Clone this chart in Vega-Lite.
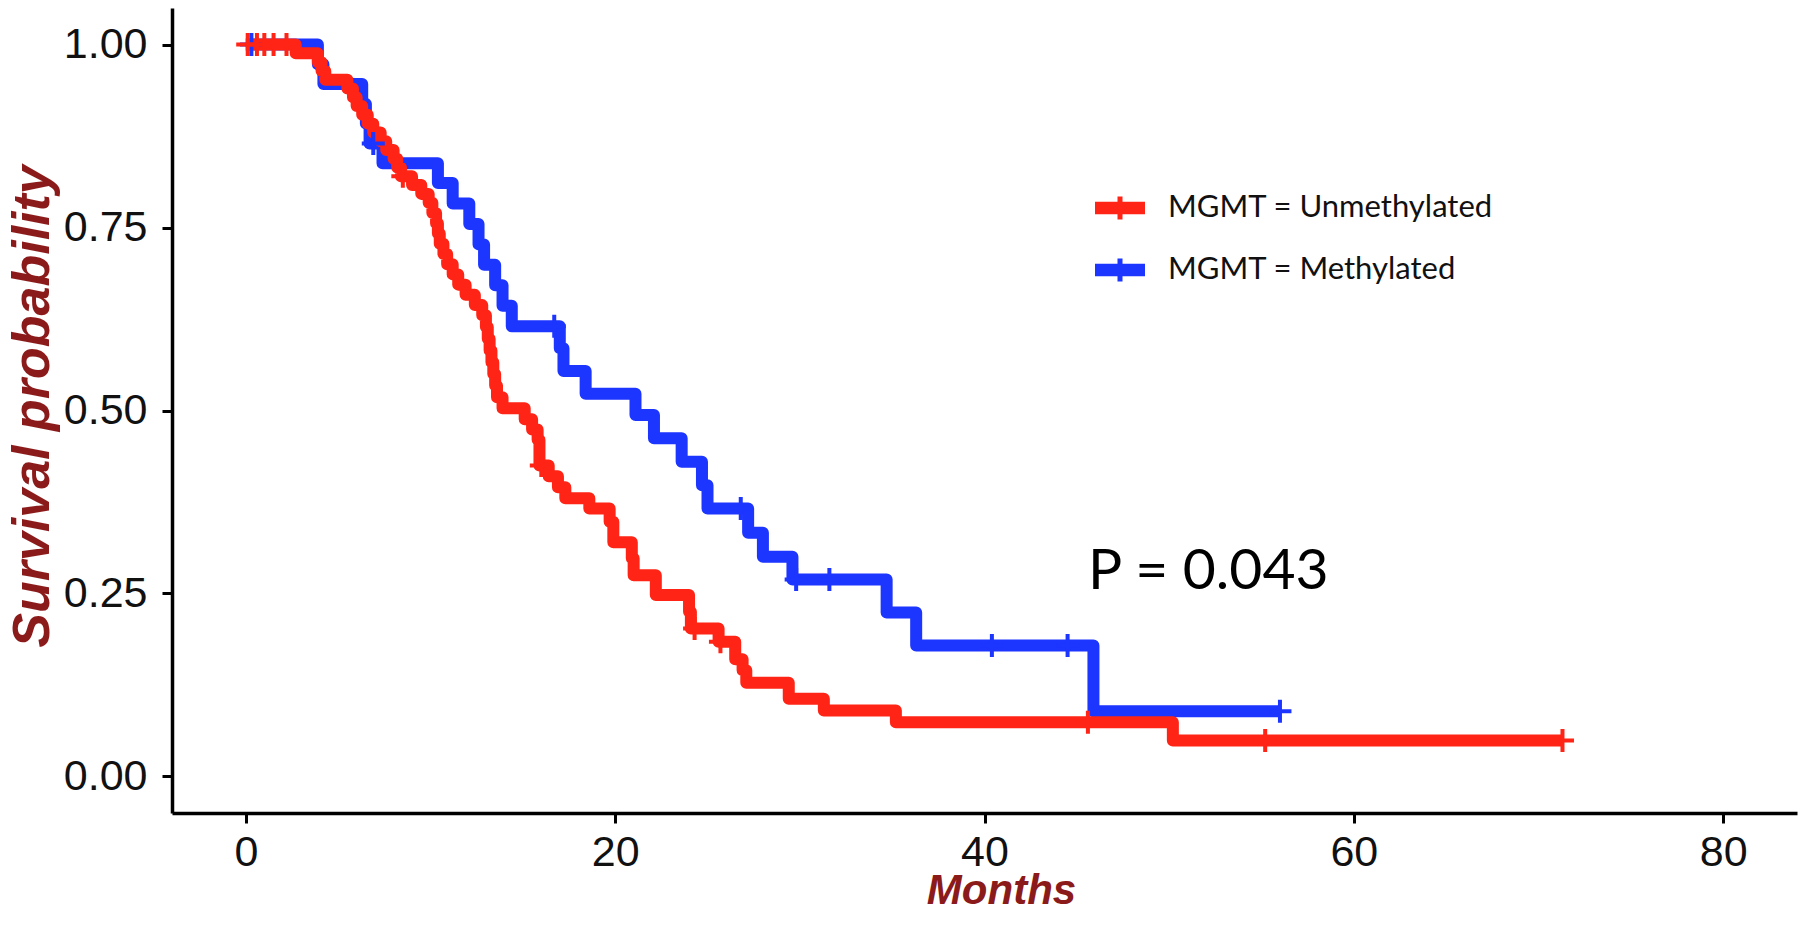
{
  "$schema": "https://vega.github.io/schema/vega-lite/v6.json",
  "width": 1625,
  "height": 805,
  "autosize": {"type": "none"},
  "padding": {"left": 172, "top": 8, "right": 3, "bottom": 112},
  "background": "white",
  "config": {
    "view": {"stroke": null},
    "axis": {
      "grid": false,
      "domainColor": "#000000",
      "domainWidth": 3.5,
      "tickColor": "#000000",
      "tickWidth": 3,
      "tickSize": 10,
      "labelFont": "Liberation Sans",
      "labelFontSize": 43,
      "labelColor": "#111111",
      "titleFont": "Liberation Sans",
      "titleFontSize": 52,
      "titleFontStyle": "italic",
      "titleFontWeight": "bold",
      "titleColor": "#8B1A1A"
    }
  },
  "data": {
    "values": [
      {"group": "MGMT = Methylated", "month": 0, "surv": 1.0, "censor": 0},
      {"group": "MGMT = Methylated", "month": 0.3, "surv": 1.0, "censor": 1},
      {"group": "MGMT = Methylated", "month": 3.9, "surv": 0.973, "censor": 0},
      {"group": "MGMT = Methylated", "month": 4.2, "surv": 0.946, "censor": 0},
      {"group": "MGMT = Methylated", "month": 6.3, "surv": 0.919, "censor": 0},
      {"group": "MGMT = Methylated", "month": 6.5, "surv": 0.892, "censor": 0},
      {"group": "MGMT = Methylated", "month": 6.7, "surv": 0.865, "censor": 0},
      {"group": "MGMT = Methylated", "month": 6.9, "surv": 0.865, "censor": 1},
      {"group": "MGMT = Methylated", "month": 7.4, "surv": 0.838, "censor": 0},
      {"group": "MGMT = Methylated", "month": 10.4, "surv": 0.811, "censor": 0},
      {"group": "MGMT = Methylated", "month": 11.2, "surv": 0.783, "censor": 0},
      {"group": "MGMT = Methylated", "month": 12.1, "surv": 0.755, "censor": 0},
      {"group": "MGMT = Methylated", "month": 12.6, "surv": 0.727, "censor": 0},
      {"group": "MGMT = Methylated", "month": 12.9, "surv": 0.699, "censor": 0},
      {"group": "MGMT = Methylated", "month": 13.5, "surv": 0.671, "censor": 0},
      {"group": "MGMT = Methylated", "month": 13.9, "surv": 0.643, "censor": 0},
      {"group": "MGMT = Methylated", "month": 14.4, "surv": 0.615, "censor": 0},
      {"group": "MGMT = Methylated", "month": 16.7, "surv": 0.615, "censor": 1},
      {"group": "MGMT = Methylated", "month": 17.0, "surv": 0.585, "censor": 0},
      {"group": "MGMT = Methylated", "month": 17.2, "surv": 0.554, "censor": 0},
      {"group": "MGMT = Methylated", "month": 18.4, "surv": 0.523, "censor": 0},
      {"group": "MGMT = Methylated", "month": 21.1, "surv": 0.494, "censor": 0},
      {"group": "MGMT = Methylated", "month": 22.1, "surv": 0.462, "censor": 0},
      {"group": "MGMT = Methylated", "month": 23.6, "surv": 0.430, "censor": 0},
      {"group": "MGMT = Methylated", "month": 24.7, "surv": 0.398, "censor": 0},
      {"group": "MGMT = Methylated", "month": 25.0, "surv": 0.366, "censor": 0},
      {"group": "MGMT = Methylated", "month": 26.8, "surv": 0.366, "censor": 1},
      {"group": "MGMT = Methylated", "month": 27.2, "surv": 0.333, "censor": 0},
      {"group": "MGMT = Methylated", "month": 28.0, "surv": 0.300, "censor": 0},
      {"group": "MGMT = Methylated", "month": 29.6, "surv": 0.269, "censor": 0},
      {"group": "MGMT = Methylated", "month": 29.8, "surv": 0.269, "censor": 1},
      {"group": "MGMT = Methylated", "month": 31.6, "surv": 0.269, "censor": 1},
      {"group": "MGMT = Methylated", "month": 34.7, "surv": 0.224, "censor": 0},
      {"group": "MGMT = Methylated", "month": 36.3, "surv": 0.179, "censor": 0},
      {"group": "MGMT = Methylated", "month": 40.4, "surv": 0.179, "censor": 1},
      {"group": "MGMT = Methylated", "month": 44.5, "surv": 0.179, "censor": 1},
      {"group": "MGMT = Methylated", "month": 45.9, "surv": 0.089, "censor": 0},
      {"group": "MGMT = Methylated", "month": 56.0, "surv": 0.089, "censor": 1},
      {"group": "MGMT = Unmethylated", "month": 0, "surv": 1.0, "censor": 0},
      {"group": "MGMT = Unmethylated", "month": 0.1, "surv": 1.0, "censor": 1},
      {"group": "MGMT = Unmethylated", "month": 0.6, "surv": 1.0, "censor": 1},
      {"group": "MGMT = Unmethylated", "month": 1.0, "surv": 1.0, "censor": 1},
      {"group": "MGMT = Unmethylated", "month": 1.5, "surv": 1.0, "censor": 1},
      {"group": "MGMT = Unmethylated", "month": 2.2, "surv": 1.0, "censor": 1},
      {"group": "MGMT = Unmethylated", "month": 2.7, "surv": 0.988, "censor": 0},
      {"group": "MGMT = Unmethylated", "month": 3.9, "surv": 0.976, "censor": 0},
      {"group": "MGMT = Unmethylated", "month": 4.1, "surv": 0.964, "censor": 0},
      {"group": "MGMT = Unmethylated", "month": 4.3, "surv": 0.952, "censor": 0},
      {"group": "MGMT = Unmethylated", "month": 5.5, "surv": 0.940, "censor": 0},
      {"group": "MGMT = Unmethylated", "month": 5.8, "surv": 0.928, "censor": 0},
      {"group": "MGMT = Unmethylated", "month": 6.0, "surv": 0.916, "censor": 0},
      {"group": "MGMT = Unmethylated", "month": 6.3, "surv": 0.904, "censor": 0},
      {"group": "MGMT = Unmethylated", "month": 6.6, "surv": 0.892, "censor": 0},
      {"group": "MGMT = Unmethylated", "month": 6.9, "surv": 0.880, "censor": 0},
      {"group": "MGMT = Unmethylated", "month": 7.3, "surv": 0.868, "censor": 0},
      {"group": "MGMT = Unmethylated", "month": 7.6, "surv": 0.856, "censor": 0},
      {"group": "MGMT = Unmethylated", "month": 8.0, "surv": 0.844, "censor": 0},
      {"group": "MGMT = Unmethylated", "month": 8.2, "surv": 0.832, "censor": 0},
      {"group": "MGMT = Unmethylated", "month": 8.4, "surv": 0.820, "censor": 0},
      {"group": "MGMT = Unmethylated", "month": 8.5, "surv": 0.820, "censor": 1},
      {"group": "MGMT = Unmethylated", "month": 9.0, "surv": 0.808, "censor": 0},
      {"group": "MGMT = Unmethylated", "month": 9.5, "surv": 0.796, "censor": 0},
      {"group": "MGMT = Unmethylated", "month": 9.9, "surv": 0.784, "censor": 0},
      {"group": "MGMT = Unmethylated", "month": 10.1, "surv": 0.770, "censor": 0},
      {"group": "MGMT = Unmethylated", "month": 10.3, "surv": 0.756, "censor": 0},
      {"group": "MGMT = Unmethylated", "month": 10.4, "surv": 0.742, "censor": 0},
      {"group": "MGMT = Unmethylated", "month": 10.5, "surv": 0.728, "censor": 0},
      {"group": "MGMT = Unmethylated", "month": 10.7, "surv": 0.714, "censor": 0},
      {"group": "MGMT = Unmethylated", "month": 10.9, "surv": 0.700, "censor": 0},
      {"group": "MGMT = Unmethylated", "month": 11.2, "surv": 0.686, "censor": 0},
      {"group": "MGMT = Unmethylated", "month": 11.5, "surv": 0.672, "censor": 0},
      {"group": "MGMT = Unmethylated", "month": 11.9, "surv": 0.658, "censor": 0},
      {"group": "MGMT = Unmethylated", "month": 12.4, "surv": 0.644, "censor": 0},
      {"group": "MGMT = Unmethylated", "month": 12.8, "surv": 0.630, "censor": 0},
      {"group": "MGMT = Unmethylated", "month": 13.0, "surv": 0.614, "censor": 0},
      {"group": "MGMT = Unmethylated", "month": 13.1, "surv": 0.598, "censor": 0},
      {"group": "MGMT = Unmethylated", "month": 13.2, "surv": 0.582, "censor": 0},
      {"group": "MGMT = Unmethylated", "month": 13.3, "surv": 0.566, "censor": 0},
      {"group": "MGMT = Unmethylated", "month": 13.4, "surv": 0.550, "censor": 0},
      {"group": "MGMT = Unmethylated", "month": 13.5, "surv": 0.534, "censor": 0},
      {"group": "MGMT = Unmethylated", "month": 13.6, "surv": 0.518, "censor": 0},
      {"group": "MGMT = Unmethylated", "month": 13.9, "surv": 0.503, "censor": 0},
      {"group": "MGMT = Unmethylated", "month": 15.1, "surv": 0.488, "censor": 0},
      {"group": "MGMT = Unmethylated", "month": 15.5, "surv": 0.474, "censor": 0},
      {"group": "MGMT = Unmethylated", "month": 15.8, "surv": 0.460, "censor": 0},
      {"group": "MGMT = Unmethylated", "month": 15.9, "surv": 0.425, "censor": 0},
      {"group": "MGMT = Unmethylated", "month": 16.0, "surv": 0.425, "censor": 1},
      {"group": "MGMT = Unmethylated", "month": 16.4, "surv": 0.410, "censor": 0},
      {"group": "MGMT = Unmethylated", "month": 16.9, "surv": 0.395, "censor": 0},
      {"group": "MGMT = Unmethylated", "month": 17.3, "surv": 0.380, "censor": 0},
      {"group": "MGMT = Unmethylated", "month": 18.6, "surv": 0.366, "censor": 0},
      {"group": "MGMT = Unmethylated", "month": 19.7, "surv": 0.348, "censor": 0},
      {"group": "MGMT = Unmethylated", "month": 19.9, "surv": 0.320, "censor": 0},
      {"group": "MGMT = Unmethylated", "month": 20.9, "surv": 0.298, "censor": 0},
      {"group": "MGMT = Unmethylated", "month": 21.0, "surv": 0.275, "censor": 0},
      {"group": "MGMT = Unmethylated", "month": 22.2, "surv": 0.248, "censor": 0},
      {"group": "MGMT = Unmethylated", "month": 24.0, "surv": 0.225, "censor": 0},
      {"group": "MGMT = Unmethylated", "month": 24.1, "surv": 0.202, "censor": 0},
      {"group": "MGMT = Unmethylated", "month": 24.3, "surv": 0.202, "censor": 1},
      {"group": "MGMT = Unmethylated", "month": 25.6, "surv": 0.184, "censor": 0},
      {"group": "MGMT = Unmethylated", "month": 25.7, "surv": 0.184, "censor": 1},
      {"group": "MGMT = Unmethylated", "month": 26.5, "surv": 0.160, "censor": 0},
      {"group": "MGMT = Unmethylated", "month": 26.9, "surv": 0.145, "censor": 0},
      {"group": "MGMT = Unmethylated", "month": 27.1, "surv": 0.128, "censor": 0},
      {"group": "MGMT = Unmethylated", "month": 29.4, "surv": 0.106, "censor": 0},
      {"group": "MGMT = Unmethylated", "month": 31.3, "surv": 0.090, "censor": 0},
      {"group": "MGMT = Unmethylated", "month": 35.2, "surv": 0.074, "censor": 0},
      {"group": "MGMT = Unmethylated", "month": 45.6, "surv": 0.074, "censor": 1},
      {"group": "MGMT = Unmethylated", "month": 50.2, "surv": 0.049, "censor": 0},
      {"group": "MGMT = Unmethylated", "month": 55.2, "surv": 0.049, "censor": 1},
      {"group": "MGMT = Unmethylated", "month": 71.3, "surv": 0.049, "censor": 1}
    ]
  },
  "encoding": {
    "x": {
      "field": "month", "type": "quantitative",
      "scale": {"domain": [-4, 84], "nice": false, "zero": false},
      "axis": {"values": [0, 20, 40, 60, 80], "title": "Months", "labelPadding": 8, "titleFontSize": 42, "titleX": 829, "titleY": 77, "titleBaseline": "middle", "titleAlign": "center"}
    },
    "y": {
      "field": "surv", "type": "quantitative",
      "scale": {"domain": [-0.05, 1.05], "nice": false, "zero": false},
      "axis": {"values": [0, 0.25, 0.5, 0.75, 1], "format": ".2f", "title": "Survival probability", "labelPadding": 15, "titleX": -140, "titleY": 398, "titleAngle": -90, "titleBaseline": "middle", "titleAlign": "center"}
    },
    "color": {
      "field": "group", "type": "nominal",
      "scale": {"domain": ["MGMT = Unmethylated", "MGMT = Methylated"], "range": ["#FF2415", "#1C35FF"]},
      "legend": {
        "title": null,
        "orient": "none",
        "legendX": 923,
        "legendY": 175,
        "symbolType": "M-1,-0.25H1V0.25H-1Z M-0.1,-0.46H0.1V0.46H-0.1Z",
        "symbolSize": 2500,
        "symbolStrokeWidth": 0,
        "labelFont": "Lato",
        "labelFontSize": 31,
        "labelColor": "#111111",
        "labelLimit": 0,
        "labelOffset": 23,
        "rowPadding": 22,
        "encode": {
          "symbols": {"update": {"fill": {"scale": "color", "field": "value"}, "stroke": {"value": "transparent"}, "opacity": {"value": 1}}}
        }
      }
    }
  },
  "layer": [
    {
      "transform": [{"filter": "datum.group === 'MGMT = Methylated'"}],
      "mark": {"type": "line", "interpolate": "step-after", "strokeWidth": 12, "strokeJoin": "round"}
    },
    {
      "transform": [{"filter": "datum.group === 'MGMT = Unmethylated'"}],
      "mark": {"type": "line", "interpolate": "step-after", "strokeWidth": 12, "strokeJoin": "round"}
    },
    {
      "transform": [{"filter": "datum.censor === 1"}],
      "mark": {"type": "point", "shape": "M0,-1L0,1M-1,0L1,0", "filled": false, "strokeWidth": 4, "size": 529, "opacity": 1}
    },
    {
      "data": {"values": [{"month": 45.6, "surv": 0.28, "label": "P = 0.043"}]},
      "mark": {"type": "text", "font": "Lato", "fontSize": 57, "align": "left", "baseline": "middle", "color": "#000000"},
      "encoding": {
        "text": {"field": "label", "type": "nominal"},
        "color": {"value": "#000000"}
      }
    }
  ]
}
